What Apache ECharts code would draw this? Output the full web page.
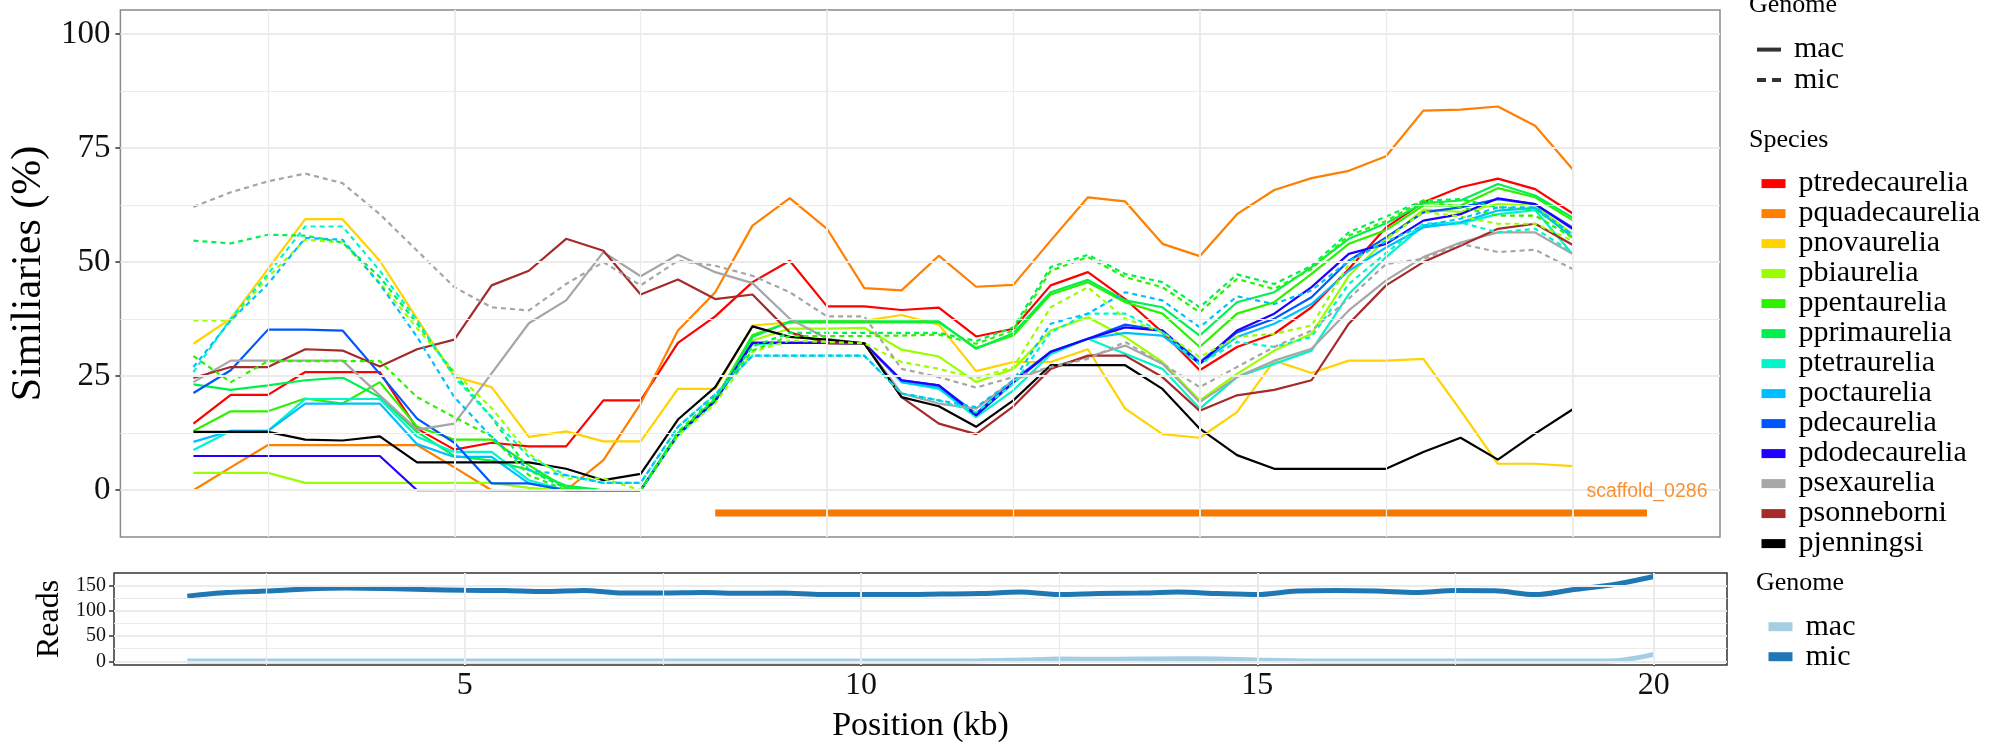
<!DOCTYPE html>
<html><head><meta charset="utf-8">
<script src="https://cdn.jsdelivr.net/npm/echarts@6/dist/echarts.min.js"></script>
<style>html,body{margin:0;padding:0;background:#fff}#c{width:2000px;height:750px}</style>
</head><body><div id="c"></div>
<script>
// ---------- data ----------
const positions = [1.5,2,2.5,3,3.5,4,4.5,5,5.5,6,6.5,7,7.5,8,8.5,9,9.5,10,10.5,11,11.5,12,12.5,13,13.5,14,14.5,15,15.5,16,16.5,17,17.5,18,18.5,19,19.5,20];

const speciesNames = ['ptredecaurelia','pquadecaurelia','pnovaurelia','pbiaurelia','ppentaurelia','pprimaurelia','ptetraurelia','poctaurelia','pdecaurelia','pdodecaurelia','psexaurelia','psonneborni','pjenningsi'];
const genomeNames = ['mac','mic'];

const ptredecaurelia_mac = [14.6,20.9,20.9,25.9,25.9,25.9,13.5,8.9,10.4,9.6,9.6, 19.7,19.7,32.3,38.1,45.6,50.3,40.3,40.3,39.5,40.0, 33.7,35.4,44.9,47.8,41.9,34.6,26.3,31.4,34.3,40.1,48.5, 57.6,63.1,66.4,68.3,66.0,60.7];
const pquadecaurelia_mac = [0,5.0,9.9,9.9,9.9,9.9,9.9,5.0,0,0,0, 6.6,19.0,35.0,43.4,58.0,64.0,57.3,44.3,43.8,51.4, 44.6,45.0,54.7,64.2,63.3,54.0,51.3,60.5,65.8,68.4,70.0, 73.2,83.2,83.4,84.1,79.9,70.4];
const pnovaurelia_mac = [32.1,37.6,48.5,59.4,59.4,50.3,37.6,24.9,22.6,11.7,12.9, 10.7,10.7,22.2,22.2,36.1,36.8,37.2,37.1,38.4,36.3, 26.1,28.1,28.1,30.9,17.9,12.3,11.5,17.1,28.4,25.7,28.4, 28.4,28.8,17.5,5.8,5.8,5.3];
const pbiaurelia_mac = [3.8,3.8,3.8,1.6,1.6,1.6,1.6,1.6,1.6,0.5,0, 0,0,12.4,19.7,32.8,35.4,35.4,35.6,30.8,29.3, 23.7,26.6,35.0,37.9,33.6,28.1,19.7,25.5,30.6,34.3,47.0, 55.0,61.5,61.0,62.7,62.4,56.2];
const ppentaurelia_mac = [13.0,17.3,17.3,20.1,19.0,23.7,13.9,11.1,11.1,5.5,0.5, 0,0,12.4,20.0,34.0,36.8,36.8,36.8,36.8,36.8, 31.2,33.9,42.9,45.6,41.2,38.7,31.4,38.7,41.2,47.4,54.0, 57.0,62.4,62.4,66.2,64.2,59.2];
const pprimaurelia_mac = [23.2,22.0,23.0,24.1,24.7,20.4,12.8,7.5,6.5,4.5,1.0, 0,0,12.0,19.5,33.6,37.0,37.0,37.0,37.0,37.0, 31.0,34.4,43.4,46.1,41.6,40.1,33.9,41.2,43.4,48.9,55.1, 58.5,62.9,63.5,67.1,64.6,59.8];
const ptetraurelia_mac = [8.8,13.0,13.0,20.0,20.0,20.0,11.7,8.4,8.4,2.2,0, 0,0,12.0,19.5,32.0,32.3,32.3,32.2,23.7,22.2, 16.0,21.9,29.8,33.2,29.9,26.6,17.9,24.8,27.7,30.6,43.0, 51.1,58.0,58.5,60.5,61.4,51.8];
const poctaurelia_mac = [10.6,13.0,13.0,19.0,19.0,19.0,10.1,7.3,7.3,1.5,0, 0,0,12.2,19.6,32.3,32.3,32.3,32.2,23.7,22.5, 16.4,23.5,30.3,33.2,34.5,33.9,27.7,33.6,36.5,40.8,48.1, 53.2,57.6,58.7,61.3,61.9,55.4];
const pdecaurelia_mac = [21.3,26.3,35.2,35.2,35.0,25.5,15.7,10.4,1.5,1.5,0, 0,0,12.3,19.6,32.3,32.3,32.3,32.2,24.1,23.0, 16.8,24.1,30.4,33.2,36.3,35.0,28.1,34.6,37.6,42.3,50.3, 55.4,60.9,62.0,63.8,62.7,57.6];
const pdodecaurelia_mac = [7.5,7.5,7.5,7.5,7.5,7.5,0,0,0,0,0, 0,0,12.3,19.6,32.3,32.3,32.3,32.2,24.1,23.0, 16.4,23.7,30.3,33.2,35.7,35.0,27.7,35.0,38.7,44.5,51.8, 54.0,59.1,60.5,64.0,62.7,57.3];
const psexaurelia_mac = [23.7,28.4,28.4,28.4,28.4,20.8,13.3,14.6,25.6,36.6,41.6, 52.2,46.9,51.6,47.8,45.4,37.6,33.2,32.2,21.2,19.0, 17.9,24.1,27.0,29.2,31.7,27.7,19.3,24.8,28.4,31.0,39.4, 46.0,51.1,54.3,56.5,56.5,51.8];
const psonneborni_mac = [24.6,27.0,27.0,30.9,30.6,27.1,30.9,33.0,44.9,48.1,55.1, 52.5,42.9,46.2,41.9,42.9,34.6,32.2,32.2,20.4,14.6, 12.3,18.4,26.6,29.5,29.5,24.8,17.4,20.8,22.0,24.1,36.5, 44.9,50.0,53.6,57.3,58.4,53.8];
const pjenningsi_mac = [12.8,12.8,12.8,11.1,10.9,11.8,6.1,6.1,6.1,6.1,4.7, 2.2,3.6,15.5,22.6,35.9,33.6,33.0,32.2,20.4,18.4, 13.9,19.7,27.4,27.4,27.4,22.2,13.5,7.7,4.7,4.7,4.7, 4.7,8.4,11.5,6.7,12.4,17.7];

const pbiaurelia_mic = [37.2,37.2,46.7,54.9,54.3,45.5,35.5,26.0,18.0,8.0,2.5, 2.6,0,12.0,19.0,30.3,32.8,32.5,32.2,28.1,26.6, 24.5,27.0,40.1,44.5,37.6,34.6,29.2,33.6,34.3,36.1,49.6, 55.0,61.0,60.0,58.4,58.4,54.7];
const ppentaurelia_mic = [29.4,23.7,28.3,28.3,28.3,28.3,20.4,16.0,11.8,3.3,0, 0,0,12.8,20.5,30.6,33.8,33.8,33.8,33.9,34.1, 32.1,35.0,48.1,51.1,46.7,44.5,39.0,46.3,44.1,48.5,55.8, 59.0,63.5,62.0,60.2,60.2,55.4];
const pprimaurelia_mic = [54.7,54.1,56.0,55.8,54.3,46.7,36.5,25.5,16.0,4.4,0.4, 0,0,12.5,20.0,31.5,34.5,34.5,34.5,34.5,34.5, 32.7,35.7,48.9,51.6,47.4,45.6,40.1,47.3,45.2,49.2,56.5, 60.0,63.5,63.8,62.0,61.5,56.0];
const ptetraurelia_mic = [25.9,37.6,47.4,57.8,57.8,48.1,37.2,24.8,16.0,7.3,3.3, 1.6,1.6,13.9,21.0,29.5,29.5,29.5,29.5,21.2,19.7, 17.1,23.3,34.6,38.7,38.7,34.6,27.7,32.5,31.4,33.6,45.2, 52.0,58.4,58.7,56.5,57.3,52.2];
const poctaurelia_mic = [27.0,37.2,45.2,55.3,54.9,45.2,33.6,20.4,11.7,4.4,3.3, 1.6,1.6,13.9,21.0,29.5,29.5,29.5,29.5,21.2,19.7, 18.2,24.1,36.5,38.7,43.4,41.6,35.7,42.5,40.8,43.8,50.3, 54.5,58.0,59.5,62.0,62.0,56.0];
const psexaurelia_mic = [62.1,65.3,67.7,69.4,67.3,60.5,52.5,44.5,40.1,39.4,45.2, 50.0,44.9,50.3,49.2,47.0,43.4,38.1,38.1,26.6,24.8, 22.5,24.8,27.0,28.8,32.5,27.7,22.6,27.0,31.4,35.0,42.0, 49.6,50.7,54.0,52.2,52.7,48.5];

const reads_mac = [0.5,0.5,0.5,0.5,0.5,0.5,0.5,0.5,0.5,0.5,0.5, 0.5,0.5,0.5,0.5,0.5,0.5,0.5,0.5,0.5,1.0, 2.5,4.5,4.0,4.5,5.0,4.5,2.6,1.0,0.5,0.5,0.5,0.5,0.5,0.5,0.5,1.2,13.8];
const reads_mic = [129,136,139,143,145,144,142,140.6,140,138,140, 135,135,136,134.5,135,132,132,132,133,134, 137,132,134,135,137,134,132,139,140,139,136,140,139.5,132,142,152,168];

const scaffoldName = 'scaffold_0286';
const scaffoldStart = 8.5, scaffoldEnd = 21.0, scaffoldY = -5;

const yTicksMain = [0,25,50,75,100];
const xTicks = [5,10,15,20];
const yTicksReads = [0,50,100,150];

// ---------- styles ----------
const speciesColors = {
  ptredecaurelia:'#FF0000', pquadecaurelia:'#FF7F00', pnovaurelia:'#FFD200', pbiaurelia:'#99FF00',
  ppentaurelia:'#2EF000', pprimaurelia:'#00F050', ptetraurelia:'#00F5C8', poctaurelia:'#00BFFF',
  pdecaurelia:'#0055FF', pdodecaurelia:'#2200FF', psexaurelia:'#A6A6A6', psonneborni:'#A52A2A', pjenningsi:'#000000'
};
const macData = {ptredecaurelia:ptredecaurelia_mac, pquadecaurelia:pquadecaurelia_mac, pnovaurelia:pnovaurelia_mac,
  pbiaurelia:pbiaurelia_mac, ppentaurelia:ppentaurelia_mac, pprimaurelia:pprimaurelia_mac, ptetraurelia:ptetraurelia_mac,
  poctaurelia:poctaurelia_mac, pdecaurelia:pdecaurelia_mac, pdodecaurelia:pdodecaurelia_mac, psexaurelia:psexaurelia_mac,
  psonneborni:psonneborni_mac, pjenningsi:pjenningsi_mac};
const micData = {pbiaurelia:pbiaurelia_mic, ppentaurelia:ppentaurelia_mic, pprimaurelia:pprimaurelia_mic,
  ptetraurelia:ptetraurelia_mic, poctaurelia:poctaurelia_mic, psexaurelia:psexaurelia_mic};

const SERIF = 'Liberation Serif, Times New Roman, serif';
const GRID_C = '#EBEBEB';
const pair = (arr) => positions.map((x, i) => [x, arr[i]]);

function gridLines(xMaj, xMin, yMaj, yMin) {
  const d = [];
  xMin.forEach(v => d.push({xAxis: v, lineStyle: {color: GRID_C, width: 1.2, type: 'solid'}}));
  yMin.forEach(v => d.push({yAxis: v, lineStyle: {color: GRID_C, width: 1.2, type: 'solid'}}));
  xMaj.forEach(v => d.push({xAxis: v, lineStyle: {color: GRID_C, width: 2, type: 'solid'}}));
  yMaj.forEach(v => d.push({yAxis: v, lineStyle: {color: GRID_C, width: 2, type: 'solid'}}));
  return d;
}

const series = [];
series.push({type:'line', name:'_g0', xAxisIndex:0, yAxisIndex:0, data:[], z:0, silent:true,
  markLine:{silent:true, symbol:['none','none'], label:{show:false}, animation:false,
    emphasis:{disabled:true}, data: gridLines([5,10,15,20],[2.5,7.5,12.5,17.5],[0,25,50,75,100],[12.5,37.5,62.5,87.5])}});
series.push({type:'line', name:'_g1', xAxisIndex:1, yAxisIndex:1, data:[], z:0, silent:true,
  markLine:{silent:true, symbol:['none','none'], label:{show:false}, animation:false,
    emphasis:{disabled:true}, data: gridLines([5,10,15,20],[2.5,7.5,12.5,17.5],[0,50,100,150],[25,75,125])}});

speciesNames.forEach(sp => {
  series.push({type:'line', name:sp, xAxisIndex:0, yAxisIndex:0, data:pair(macData[sp]), symbol:'none',
    z:3, lineStyle:{color:speciesColors[sp], width:2.2}, itemStyle:{color:speciesColors[sp]}});
});
speciesNames.forEach(sp => {
  if (!micData[sp]) return;
  series.push({type:'line', name:sp, xAxisIndex:0, yAxisIndex:0, data:pair(micData[sp]), symbol:'none',
    z:3, lineStyle:{color:speciesColors[sp], width:2.2, type:[5,4]}, itemStyle:{color:speciesColors[sp]}});
});
// genome key entries (legend only)
genomeNames.forEach(g => {
  series.push({type:'scatter', name:g, xAxisIndex:0, yAxisIndex:0, data:[], itemStyle:{color:'#000'}});
});
series.push({type:'line', name:'_scaffold', xAxisIndex:0, yAxisIndex:0,
  data:[[scaffoldStart, scaffoldY],[scaffoldEnd, scaffoldY]], symbol:'none', z:4,
  lineStyle:{color:'#F77700', width:7, cap:'butt'}});
series.push({type:'scatter', name:'_scaffoldLabel', xAxisIndex:0, yAxisIndex:0,
  data:[[scaffoldEnd, -0.2]], symbolSize:1, itemStyle:{color:'rgba(0,0,0,0)'}, z:5,
  label:{show:true, position:'inside', formatter: scaffoldName, color:'#F77700',
    fontFamily:'Liberation Sans, Arial, sans-serif', fontSize:19.5}});
series.push({type:'line', name:'Reads mac', xAxisIndex:1, yAxisIndex:1, data:pair(reads_mac), symbol:'none',
  z:3, smooth:0.3, lineStyle:{color:'#A6CEE3', width:5}, itemStyle:{color:'#A6CEE3'}});
series.push({type:'line', name:'Reads mic', xAxisIndex:1, yAxisIndex:1, data:pair(reads_mic), symbol:'none',
  z:3, smooth:0.3, lineStyle:{color:'#1F78B4', width:5}, itemStyle:{color:'#1F78B4'}});

const legendText = {fontSize:30, fontFamily:SERIF, color:'#000', lineHeight:30, padding:[0,0,0,8]};
const titleText = {fontSize:26, fontFamily:SERIF, color:'#000', fontWeight:'normal', lineHeight:28};

const option = {
  animation:false,
  backgroundColor:'#fff',
  title:[
    {text:'Genome', left:1749, top:-9, padding:0, textStyle:titleText},
    {text:'Species', left:1749, top:126, padding:0, textStyle:titleText},
    {text:'Genome', left:1756, top:569, padding:0, textStyle:titleText}
  ],
  legend:[
    {data:[{name:'mac', icon:'path://M0,0H24V4H0Z'}, {name:'mic', icon:'path://M0,0H9V4H0ZM15,0H24V4H15Z'}],
      orient:'vertical', left:1752, top:29.6, itemWidth:24, itemHeight:4, itemGap:0.4,
      selectedMode:false, textStyle:legendText},
    {data:speciesNames, orient:'vertical', left:1752, top:163.6, itemWidth:24, itemHeight:9, itemGap:0,
      selectedMode:false, textStyle:legendText, lineStyle:{width:9, type:'solid', cap:'butt'}},
    {data:['Reads mac','Reads mic'], orient:'vertical', left:1759, top:606.7, itemWidth:24, itemHeight:9, itemGap:0,
      selectedMode:false, textStyle:legendText, lineStyle:{width:9, type:'solid', cap:'butt'},
      formatter: n => n.replace('Reads ', '')}
  ],
  grid:[
    {left:112, top:10, width:1608, height:527, show:true, borderColor:'#8A8A8A', borderWidth:1.5, backgroundColor:'transparent'},
    {left:114, top:573, width:1613, height:92, show:true, borderColor:'#333', borderWidth:1.5, backgroundColor:'transparent'}
  ],
  xAxis:[
    {gridIndex:0, type:'value', min:0.52, max:21.98, axisLine:{show:false}, splitLine:{show:false},
      axisTick:{show:true, customValues:xTicks, length:5, lineStyle:{color:'#333', width:1.5}},
      axisLabel:{show:false}},
    {gridIndex:1, type:'value', min:0.575, max:20.925, axisLine:{show:false}, splitLine:{show:false},
      axisTick:{show:true, customValues:xTicks, length:5, lineStyle:{color:'#333', width:1.5}},
      axisLabel:{customValues:xTicks, fontSize:32, fontFamily:SERIF, color:'#111', margin:5},
      name:'Position (kb)', nameLocation:'middle', nameGap:44, nameTextStyle:{fontSize:34, fontFamily:SERIF, color:'#000'}}
  ],
  yAxis:[
    {gridIndex:0, type:'value', min:-10.25, max:105.25, axisLine:{show:false}, splitLine:{show:false},
      axisTick:{show:true, customValues:yTicksMain, length:5, lineStyle:{color:'#333', width:1.5}},
      axisLabel:{customValues:yTicksMain, fontSize:33, fontFamily:SERIF, color:'#111', margin:10},
      name:'Similiaries (%)', nameLocation:'middle', nameRotate:90, nameGap:64,
      nameTextStyle:{fontSize:42, fontFamily:SERIF, color:'#000'}},
    {gridIndex:1, type:'value', min:-7.3, max:174.8, axisLine:{show:false}, splitLine:{show:false},
      axisTick:{show:true, customValues:yTicksReads, length:5, lineStyle:{color:'#333', width:1.5}},
      axisLabel:{customValues:yTicksReads, fontSize:20, fontFamily:SERIF, color:'#111', margin:8},
      name:'Reads', nameLocation:'middle', nameRotate:90, nameGap:47,
      nameTextStyle:{fontSize:32, fontFamily:SERIF, color:'#000'}}
  ],
  series: series
};
const chart = echarts.init(document.getElementById('c'), null, {renderer:'canvas'});
chart.setOption(option);
</script></body></html>
